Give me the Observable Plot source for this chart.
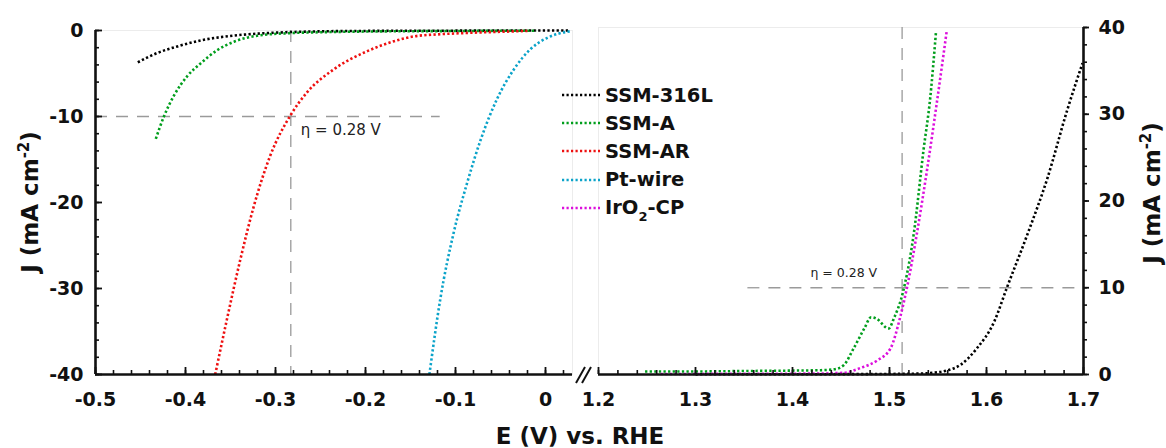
<!DOCTYPE html>
<html><head><meta charset="utf-8">
<script src="https://cdn.jsdelivr.net/npm/d3@7"></script>
<script src="https://cdn.jsdelivr.net/npm/@observablehq/plot@0.6"></script>
<style>
html,body{margin:0;padding:0;background:#fff;}
#wrap{position:relative;width:1166px;height:448px;overflow:hidden;font-family:"DejaVu Sans",sans-serif;color:#111;}
#wrap > svg{position:absolute;top:0;}
.title{position:absolute;font-weight:bold;font-size:23px;white-space:nowrap;line-height:1;}
.title sup{font-size:15px;vertical-align:0;position:relative;top:-9px;}
#legend{position:absolute;left:562px;top:81px;}
.lrow{height:28.2px;display:flex;align-items:center;font-weight:bold;font-size:19.5px;white-space:nowrap;}
.lrow svg{margin-right:5px;}
.lrow sub{font-size:13px;vertical-align:0;position:relative;top:7px;}
</style></head>
<body><div id="wrap"></div>
<script>
// ---------- data ----------
const seriesNames = ["SSM-316L", "SSM-A", "SSM-AR", "Pt-wire", "IrO2-CP"];
const seriesColors = ["#000000", "#009e1c", "#ee1010", "#0ba3c9", "#dc10dc"];

// HER (left panel): [E (V vs RHE), J (mA cm-2)]
const herSSM316L = [[-0.453,-3.7],[-0.431,-2.6],[-0.409,-1.85],[-0.383,-1.15],[-0.347,-0.6],[-0.309,-0.3],[-0.283,-0.18],[-0.25,-0.1],[-0.2,-0.05],[-0.1,-0.02],[0,0],[0.025,0]];
const herSSMA = [[-0.433,-12.6],[-0.424,-10],[-0.413,-7.6],[-0.398,-5.3],[-0.383,-3.8],[-0.365,-2.3],[-0.346,-1.3],[-0.32,-0.6],[-0.283,-0.3],[-0.25,-0.2],[-0.2,-0.12],[-0.1,-0.06],[-0.01,-0.02]];
const herSSMAR = [[-0.367,-40],[-0.354,-33.6],[-0.339,-26.6],[-0.324,-20.4],[-0.306,-14.6],[-0.283,-9.8],[-0.265,-7.2],[-0.235,-4.5],[-0.198,-2.4],[-0.17,-1.3],[-0.147,-0.7],[-0.12,-0.45],[-0.091,-0.3],[-0.05,-0.15],[-0.02,-0.05]];
const herPtWire = [[-0.129,-40],[-0.117,-31.3],[-0.102,-23.5],[-0.087,-17.7],[-0.072,-12.7],[-0.054,-8],[-0.035,-4.5],[-0.017,-2.2],[0.002,-0.85],[0.015,-0.35],[0.028,-0.08]];

// OER (right panel)
const oerSSM316L = [[1.30,0.02],[1.40,0.03],[1.48,0.05],[1.53,0.1],[1.545,0.2],[1.559,0.45],[1.573,1.1],[1.59,3],[1.608,6.1],[1.621,10],[1.642,16.1],[1.663,22.7],[1.683,30.4],[1.699,35.9]];
const oerSSMA = [[1.248,0.35],[1.3,0.35],[1.35,0.4],[1.4,0.45],[1.43,0.5],[1.443,0.6],[1.453,1.1],[1.463,3.0],[1.474,5.3],[1.481,6.6],[1.487,6.4],[1.499,5.3],[1.505,6.6],[1.512,8.7],[1.516,10.5],[1.525,16.2],[1.535,25.8],[1.542,31.9],[1.548,39.6]];
const oerIrO2CP = [[1.264,0.05],[1.35,0.08],[1.42,0.1],[1.453,0.2],[1.47,0.75],[1.487,1.6],[1.501,3],[1.511,6.6],[1.518,10],[1.528,16.1],[1.539,23.8],[1.549,31.5],[1.559,39.6]];

// axes
const herXDomain = [-0.5, 0.03];
const herYDomain = [-40, 0];
const herXMajor = [-0.5, -0.4, -0.3, -0.2, -0.1, 0];
const herXMinor = d3.range(-25, 2).map(i => i * 0.02);
const herYMajor = [-40, -30, -20, -10, 0];
const herYMinor = d3.range(-20, 1).map(i => i * 2);

const oerXDomain = [1.2, 1.7];
const oerYDomain = [0, 40];
const oerXMajor = [1.2, 1.3, 1.4, 1.5, 1.6, 1.7];
const oerXMinor = d3.range(60, 86).map(i => i * 0.02);
const oerYMajor = [0, 10, 20, 30, 40];
const oerYMinor = d3.range(0, 21).map(i => i * 2);

// reference lines (10 mA cm-2 and overpotential)
const herRef = {E: -0.283, J: -10, hFrom: -0.5, hTo: -0.117, label: "η = 0.28 V"};
const oerRef = {E: 1.513, J: 10, hFrom: 1.354, hTo: 1.7, label: "η = 0.28 V"};

// ---------- drawing ----------
const fontFam = "DejaVu Sans";
const H = 448, MB = 74;
const fmt = d => String(+d.toFixed(2));
const dash = {stroke: "#9a9a9a", strokeWidth: 1.3, strokeDasharray: "12,9"};
function dotted(data, i) {
  return Plot.line(data, {x: d => d[0], y: d => d[1], stroke: seriesColors[i], strokeWidth: 2.6,
    strokeDasharray: "2.3,2.3", strokeLinecap: "butt", strokeLinejoin: "miter", curve: "monotone-x"});
}

const L = {left: 0, width: 600, ml: 95, mr: 28, mt: 30};
const lpw = L.width - L.ml - L.mr, lph = H - L.mt - MB;
const leftPlot = Plot.plot({
  width: L.width, height: H, marginLeft: L.ml, marginRight: L.mr, marginTop: L.mt, marginBottom: MB,
  x: {domain: herXDomain}, y: {domain: herYDomain},
  style: {fontFamily: fontFam, fontSize: "19px", fontWeight: "bold", color: "#111", background: "transparent", overflow: "visible"},
  marks: [
    Plot.frame({stroke: "#ececec", strokeWidth: 1}),
    Plot.ruleY([herRef.J], {x1: herRef.hFrom, x2: herRef.hTo, ...dash}),
    Plot.ruleX([herRef.E], {...dash}),
    dotted(herSSM316L, 0),
    dotted(herSSMA, 1),
    dotted(herSSMAR, 2),
    dotted(herPtWire, 3),
    Plot.tickX(herXMinor, {x: d => d, insetTop: lph - 4, strokeWidth: 1.6, stroke: "#111"}),
    Plot.tickX(herXMajor, {x: d => d, insetTop: lph - 7, strokeWidth: 1.8, stroke: "#111"}),
    Plot.tickY(herYMinor, {y: d => d, insetRight: lpw - 4, strokeWidth: 1.6, stroke: "#111"}),
    Plot.tickY(herYMajor, {y: d => d, insetRight: lpw - 7, strokeWidth: 1.8, stroke: "#111"}),
    Plot.ruleX([herXDomain[0]], {strokeWidth: 2.6, stroke: "#111"}),
    Plot.ruleY([herYDomain[0]], {strokeWidth: 2.6, stroke: "#111"}),
    Plot.axisX(herXMajor, {tickSize: 0, tickPadding: 18, tickFormat: fmt, label: null}),
    Plot.axisY(herYMajor, {tickSize: 0, tickPadding: 12, tickFormat: fmt, label: null}),
    Plot.text([herRef.label], {x: herRef.E, y: herRef.J, dx: 10, dy: 14, textAnchor: "start", fontWeight: "normal", fontSize: 15, fill: "#222"})
  ]
});

const R = {left: 580, width: 586, ml: 18, mr: 83, mt: 27};
const rpw = R.width - R.ml - R.mr, rph = H - R.mt - MB;
const rightPlot = Plot.plot({
  width: R.width, height: H, marginLeft: R.ml, marginRight: R.mr, marginTop: R.mt, marginBottom: MB,
  x: {domain: oerXDomain}, y: {domain: oerYDomain},
  style: {fontFamily: fontFam, fontSize: "19px", fontWeight: "bold", color: "#111", background: "transparent", overflow: "visible"},
  marks: [
    Plot.frame({stroke: "#ececec", strokeWidth: 1}),
    Plot.ruleY([oerRef.J], {x1: oerRef.hFrom, x2: oerRef.hTo, ...dash}),
    Plot.ruleX([oerRef.E], {...dash}),
    dotted(oerSSM316L, 0),
    dotted(oerSSMA, 1),
    dotted(oerIrO2CP, 4),
    Plot.tickX(oerXMinor, {x: d => d, insetTop: rph - 4, strokeWidth: 1.6, stroke: "#111"}),
    Plot.tickX(oerXMajor, {x: d => d, insetTop: rph - 7, strokeWidth: 1.8, stroke: "#111"}),
    Plot.tickY(oerYMinor, {y: d => d, insetLeft: rpw, insetRight: -4, strokeWidth: 1.6, stroke: "#111"}),
    Plot.tickY(oerYMajor, {y: d => d, insetLeft: rpw, insetRight: -6, strokeWidth: 1.8, stroke: "#111"}),
    Plot.ruleX([oerXDomain[1]], {strokeWidth: 2.6, stroke: "#111"}),
    Plot.ruleY([oerYDomain[0]], {strokeWidth: 2.6, stroke: "#111"}),
    Plot.axisX(oerXMajor, {tickSize: 0, tickPadding: 18, tickFormat: fmt, label: null}),
    Plot.axisY(oerYMajor, {anchor: "right", tickSize: 0, tickPadding: 15, tickFormat: fmt, label: null}),
    Plot.text([oerRef.label], {x: oerRef.E, y: oerRef.J, dx: -25, dy: -15, textAnchor: "end", fontWeight: "normal", fontSize: 12.5, fill: "#222"})
  ]
});

const wrap = document.getElementById("wrap");
leftPlot.style.left = L.left + "px";
rightPlot.style.left = R.left + "px";
wrap.appendChild(leftPlot);
wrap.appendChild(rightPlot);

// axis break marks
const brk = document.createElementNS("http://www.w3.org/2000/svg", "svg");
brk.setAttribute("width", 30); brk.setAttribute("height", 30);
brk.style.cssText = "position:absolute;left:570px;top:361px;";
brk.innerHTML = '<rect x="3" y="9" width="24" height="8" fill="#fff"/>' +
  '<line x1="6" y1="22" x2="15" y2="6" stroke="#111" stroke-width="2"/>' +
  '<line x1="12" y1="22" x2="21" y2="6" stroke="#111" stroke-width="2"/>';
wrap.appendChild(brk);

// titles
function addTitle(html, cx, cy, rot) {
  const d = document.createElement("div");
  d.className = "title";
  d.innerHTML = html;
  d.style.left = cx + "px"; d.style.top = cy + "px";
  d.style.transform = "translate(-50%,-50%)" + (rot ? " rotate(" + rot + "deg)" : "");
  wrap.appendChild(d);
}
addTitle("J (mA cm<sup>-2</sup>)", 30, 202, -90);
addTitle("J (mA cm<sup>-2</sup>)", 1152, 193, -90);
addTitle("E (V) vs. RHE", 580, 436, 0);

// legend
const leg = document.createElement("div");
leg.id = "legend";
seriesNames.forEach((n, i) => {
  const row = document.createElement("div");
  row.className = "lrow";
  const label = n === "IrO2-CP" ? "IrO<sub>2</sub>-CP" : n;
  row.innerHTML = '<svg width="38" height="6"><line x1="0" y1="3" x2="38" y2="3" stroke="' + seriesColors[i] +
    '" stroke-width="2.6" stroke-dasharray="2.2,2.3"/></svg><span>' + label + '</span>';
  leg.appendChild(row);
});
wrap.appendChild(leg);
</script>
</body></html>
